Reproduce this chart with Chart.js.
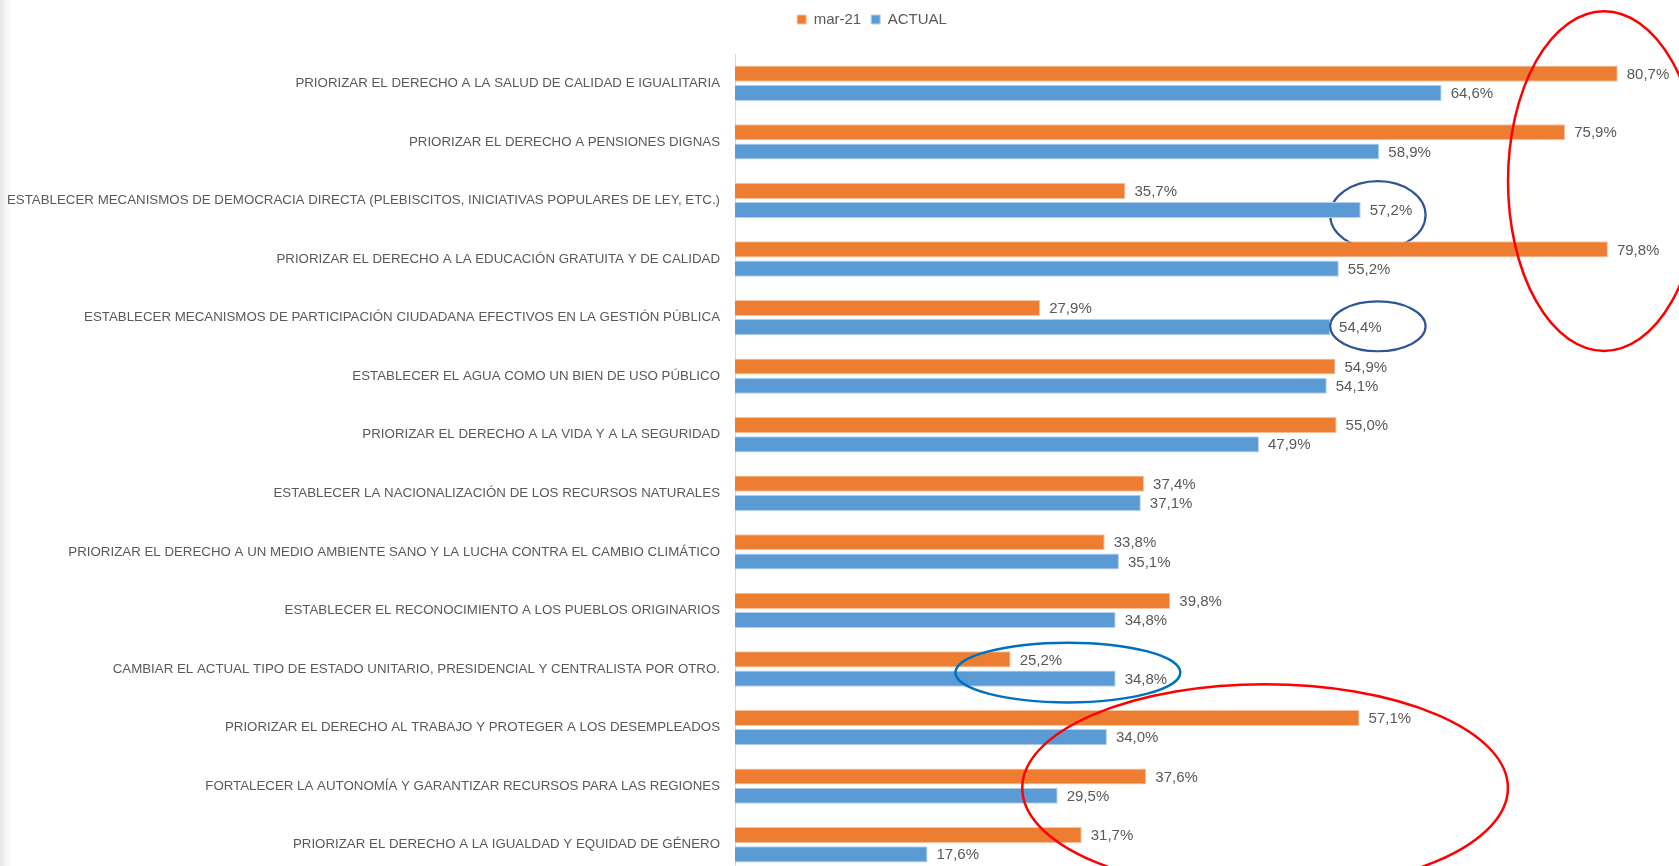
<!DOCTYPE html>
<html lang="es">
<head>
<meta charset="utf-8">
<title>Prioridades</title>
<script src="https://cdn.jsdelivr.net/npm/chart.js@4.4.1/dist/chart.umd.min.js"></script>
<style>
  html, body { margin: 0; padding: 0; overflow: hidden; }
  body { background: linear-gradient(to right, #e6e6e6 0px, #f6f6f6 6px, #ffffff 12px); }
  canvas { display: block; }
</style>
</head>
<body>
<canvas id="chartPrioridades" width="1679" height="880"></canvas>
<script>
// datos
const categorias = [
  "PRIORIZAR EL DERECHO A LA SALUD DE CALIDAD E IGUALITARIA",
  "PRIORIZAR EL DERECHO A PENSIONES DIGNAS",
  "ESTABLECER MECANISMOS DE DEMOCRACIA DIRECTA (PLEBISCITOS, INICIATIVAS POPULARES DE LEY, ETC.)",
  "PRIORIZAR EL DERECHO A LA EDUCACIÓN GRATUITA Y DE CALIDAD",
  "ESTABLECER MECANISMOS DE PARTICIPACIÓN CIUDADANA EFECTIVOS EN LA GESTIÓN PÚBLICA",
  "ESTABLECER EL AGUA COMO UN BIEN DE USO PÚBLICO",
  "PRIORIZAR EL DERECHO A LA VIDA Y A LA SEGURIDAD",
  "ESTABLECER LA NACIONALIZACIÓN DE LOS RECURSOS NATURALES",
  "PRIORIZAR EL DERECHO A UN MEDIO AMBIENTE SANO Y LA LUCHA CONTRA EL CAMBIO CLIMÁTICO",
  "ESTABLECER EL RECONOCIMIENTO A LOS PUEBLOS ORIGINARIOS",
  "CAMBIAR EL ACTUAL TIPO DE ESTADO UNITARIO, PRESIDENCIAL Y CENTRALISTA POR OTRO.",
  "PRIORIZAR EL DERECHO AL TRABAJO Y PROTEGER A LOS DESEMPLEADOS",
  "FORTALECER LA AUTONOMÍA Y GARANTIZAR RECURSOS PARA LAS REGIONES",
  "PRIORIZAR EL DERECHO A LA IGUALDAD Y EQUIDAD DE GÉNERO"
];
const mar21 = [80.7, 75.9, 35.7, 79.8, 27.9, 54.9, 55.0, 37.4, 33.8, 39.8, 25.2, 57.1, 37.6, 31.7];
const actual = [64.6, 58.9, 57.2, 55.2, 54.4, 54.1, 47.9, 37.1, 35.1, 34.8, 34.8, 34.0, 29.5, 17.6];
const series = ["mar-21", "ACTUAL"];

// marcas a mano alzada sobre el grafico (en unidades de % y de categoria)
const marcas = [
  { x: 79.45, y: 1.67, rx: 8.78, ry: 2.9, color: "#FF0000", lw: 2.5, debajo: false },
  { x: 58.77, y: 2.25, rx: 4.36, ry: 0.58, color: "#2F5597", lw: 2.2, debajo: true },
  { x: 58.77, y: 4.15, rx: 4.36, ry: 0.425, color: "#2F5597", lw: 2.2, debajo: false },
  { x: 30.43, y: 10.06, rx: 10.28, ry: 0.51, color: "#0070C0", lw: 2.5, debajo: false },
  { x: 48.46, y: 12.03, rx: 22.2, ry: 1.77, color: "#FF0000", lw: 2.5, debajo: false }
];

const gris = "#595959";
const fuente = "'Liberation Sans', Arial, sans-serif";

function dibujarMarcas(chart, debajo) {
  const { ctx, scales: { x, y } } = chart;
  ctx.save();
  marcas.filter(m => m.debajo === debajo).forEach(m => {
    const cx = x.getPixelForValue(m.x);
    const cy = y.getPixelForValue(m.y);
    const rx = Math.abs(x.getPixelForValue(m.x + m.rx) - cx);
    const ry = Math.abs(y.getPixelForValue(m.y + m.ry) - cy);
    ctx.beginPath();
    ctx.ellipse(cx, cy, rx, ry, 0, 0, Math.PI * 2);
    ctx.strokeStyle = m.color;
    ctx.lineWidth = m.lw;
    ctx.stroke();
  });
  ctx.restore();
}

const marcasPlugin = {
  id: "marcas",
  beforeDatasetsDraw(chart) { dibujarMarcas(chart, true); },
  afterDatasetsDraw(chart) {
    const ctx = chart.ctx;
    ctx.save();
    ctx.font = "15px " + fuente;
    ctx.fillStyle = gris;
    ctx.textAlign = "left";
    ctx.textBaseline = "middle";
    chart.data.datasets.forEach((ds, i) => {
      chart.getDatasetMeta(i).data.forEach((bar, j) => {
        const txt = ds.data[j].toFixed(1).replace(".", ",") + "%";
        ctx.fillText(txt, bar.x + 9, bar.y + 1);
      });
    });
    ctx.restore();
  },
  afterDraw(chart) { dibujarMarcas(chart, false); }
};

// espacio extra bajo la leyenda y leyenda algo corrida a la derecha
const legendGap = {
  id: "legendGap",
  beforeInit(chart) {
    const fit = chart.legend.fit;
    chart.legend.fit = function () {
      fit.bind(chart.legend)();
      this.height += 17;
    };
  },
  afterLayout(chart) {
    chart.legend.left = 65;
  }
};

new Chart(document.getElementById("chartPrioridades"), {
  type: "bar",
  data: {
    labels: categorias,
    datasets: [
      { label: series[0], data: mar21, backgroundColor: "#ED7D31", borderColor: "#F6C5A2", borderWidth: 1, categoryPercentage: 0.656, barPercentage: 0.84 },
      { label: series[1], data: actual, backgroundColor: "#5B9BD5", borderColor: "#B4D0EC", borderWidth: 1, categoryPercentage: 0.656, barPercentage: 0.84 }
    ]
  },
  options: {
    indexAxis: "y",
    responsive: false,
    animation: false,
    layout: { padding: { top: 2, left: 0, right: 0, bottom: 6 } },
    plugins: {
      tooltip: { enabled: false },
      legend: {
        position: "top",
        labels: { boxWidth: 9, boxHeight: 9, padding: 10, color: gris, font: { family: fuente, size: 15 } }
      }
    },
    scales: {
      x: { display: false, min: 0, max: 86.3 },
      y: {
        grid: { display: false, drawTicks: false },
        border: { display: true, color: "#D9D9D9", width: 1 },
        ticks: { autoSkip: false, padding: 15, color: gris, font: { family: fuente, size: 13.3 } },
        afterFit(scale) {
          scale.width = 735;
          scale.paddingTop = 0;
          scale.paddingBottom = 0;
        }
      }
    }
  },
  plugins: [legendGap, marcasPlugin]
});
</script>
</body>
</html>
